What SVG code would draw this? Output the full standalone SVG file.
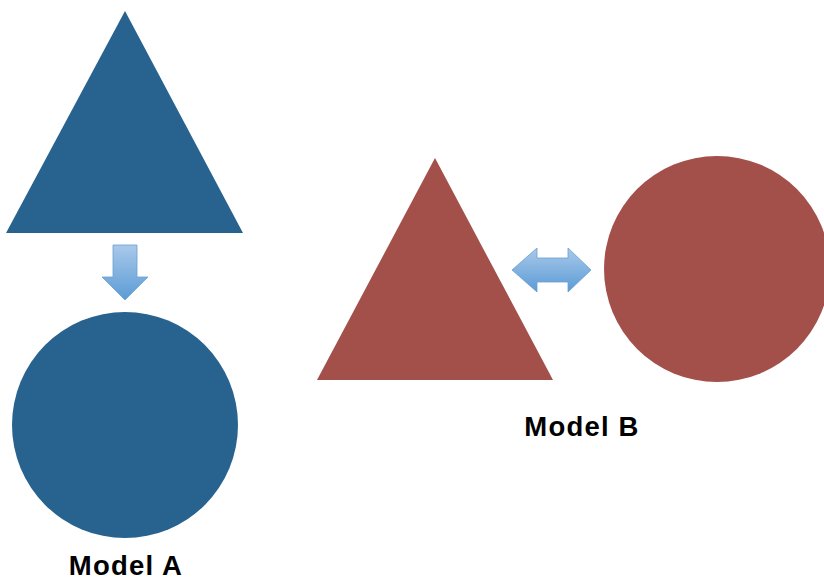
<svg xmlns="http://www.w3.org/2000/svg" width="824" height="581" viewBox="0 0 824 581">
<defs>
<linearGradient id="gv" x1="0" y1="0" x2="0" y2="1">
<stop offset="0" stop-color="#a9c9ea"/>
<stop offset="1" stop-color="#5b9bd5"/>
</linearGradient>
<linearGradient id="gh" x1="0" y1="0" x2="0" y2="1">
<stop offset="0" stop-color="#a9c9ea"/>
<stop offset="1" stop-color="#5b9bd5"/>
</linearGradient>
<style>
.blue{fill:#28628f}
.red{fill:#a3504b}
.lbl{font-family:"Liberation Sans",Arial,sans-serif;font-weight:bold;font-size:27.5px;letter-spacing:1.2px;fill:#000;text-anchor:middle}
.arr{stroke:#6a9fd0;stroke-width:0.8}
</style>
</defs>
<rect width="824" height="581" fill="#fff"/>
<g id="triangleA"><polygon class="blue" points="125,11 6,233 243,233"/></g>
<g id="circleA"><circle class="blue" cx="125" cy="425" r="113"/></g>
<g id="triangleB"><polygon class="red" points="435,158 317,380 553,380"/></g>
<g id="circleB"><circle class="red" cx="717" cy="269" r="113"/></g>
<g id="connectors">
<polygon class="arr" fill="url(#gv)" points="113,245 137,245 137,277 148,277 125,300 102,277 113,277"/>
<polygon class="arr" fill="url(#gh)" points="512,270 537,248 537,258 568,258 568,248 591,270 568,292 568,282 537,282 537,292"/>
</g>
<g id="labelA"><text class="lbl" x="126" y="575">Model A</text></g>
<g id="labelB"><text class="lbl" x="582" y="436">Model B</text></g>
</svg>
